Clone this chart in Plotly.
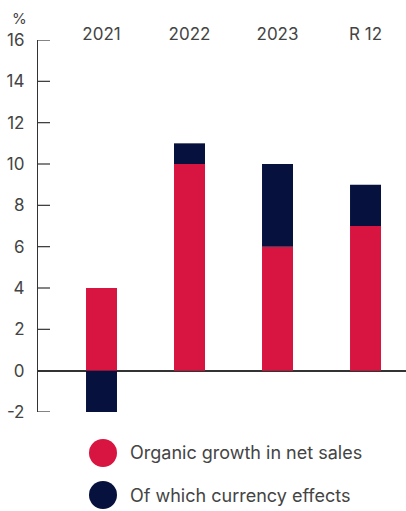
import plotly.graph_objects as go

# Chart data
periods = ["2021", "2022", "2023", "R 12"]
organic_growth = [4, 10, 6, 7]
currency_effects = [-2, 1, 4, 2]
y_ticks = [-2, 0, 2, 4, 6, 8, 10, 12, 14, 16]
y_tick_text = ["-2", "0", "2", "4", "6", "8", "10", "12", "14", "16"]
legend_labels = ["Organic growth in net sales", "Of which currency effects"]

RED = "#D81440"
NAVY = "#06123D"
TEXT = "#444444"
AXIS = "#333333"
FONT = "Inter, Roboto, sans-serif"

W, H = 406, 511
ML, MR, MT, MB = 38, 0, 40, 99
TICK_LEN = 12

fig = go.Figure()
fig.add_trace(go.Bar(x=periods, y=organic_growth, name=legend_labels[0],
                     marker=dict(color=RED, line=dict(width=0)), width=0.352))
fig.add_trace(go.Bar(x=periods, y=currency_effects, name=legend_labels[1],
                     marker=dict(color=NAVY, line=dict(width=0)), width=0.352))

fig.update_layout(
    width=W, height=H,
    margin=dict(l=ML, r=MR, t=MT, b=MB, pad=0),
    barmode="relative",
    showlegend=False,
    paper_bgcolor="white", plot_bgcolor="white",
    font=dict(family=FONT, size=17, color=TEXT),
)
fig.update_xaxes(
    side="top", type="category", range=[-0.7216, 3.46],
    showline=False, showgrid=False, ticks="", zeroline=False,
    tickfont=dict(size=17, color=TEXT), ticklabelstandoff=-4,
)
fig.update_yaxes(
    range=[-2, 16], tickmode="array", tickvals=y_ticks, ticktext=y_tick_text,
    showgrid=False, showline=True, linecolor=AXIS, linewidth=1.2,
    ticks="", ticklabelstandoff=9,
    zeroline=True, zerolinecolor=AXIS, zerolinewidth=1.5,
    tickfont=dict(size=17, color=TEXT),
)

plot_w = W - ML - MR
plot_h = H - MT - MB
def px_to_paper(px, py):
    return (px - ML) / plot_w, (H - MB - py) / plot_h

# Tick marks pointing into the plot from the y axis
for v in y_ticks:
    fig.add_shape(type="line", xref="paper", yref="y",
                  x0=0, x1=TICK_LEN / plot_w, y0=v, y1=v,
                  line=dict(color=AXIS, width=1.2), layer="above")

# "%" unit label above the y axis
ux, uy = px_to_paper(19, 18)
fig.add_annotation(text="%", xref="paper", yref="paper", x=ux, y=uy,
                   showarrow=False, font=dict(size=15, color=TEXT),
                   xanchor="center", yanchor="middle")

# Custom legend with circular swatches
for label, color, cy in zip(legend_labels, [RED, NAVY], [453, 495]):
    cx, cyp = px_to_paper(103, cy)
    fig.add_shape(type="circle", xref="paper", yref="paper",
                  xsizemode="pixel", ysizemode="pixel",
                  xanchor=cx, yanchor=cyp, x0=-14, x1=14, y0=-14, y1=14,
                  fillcolor=color, line=dict(width=0))
    tx, ty = px_to_paper(128, cy)
    fig.add_annotation(text=label, xref="paper", yref="paper", x=tx, y=ty,
                       showarrow=False, xanchor="left", yanchor="middle",
                       font=dict(size=18, color=TEXT))

fig.write_html("out.html")
